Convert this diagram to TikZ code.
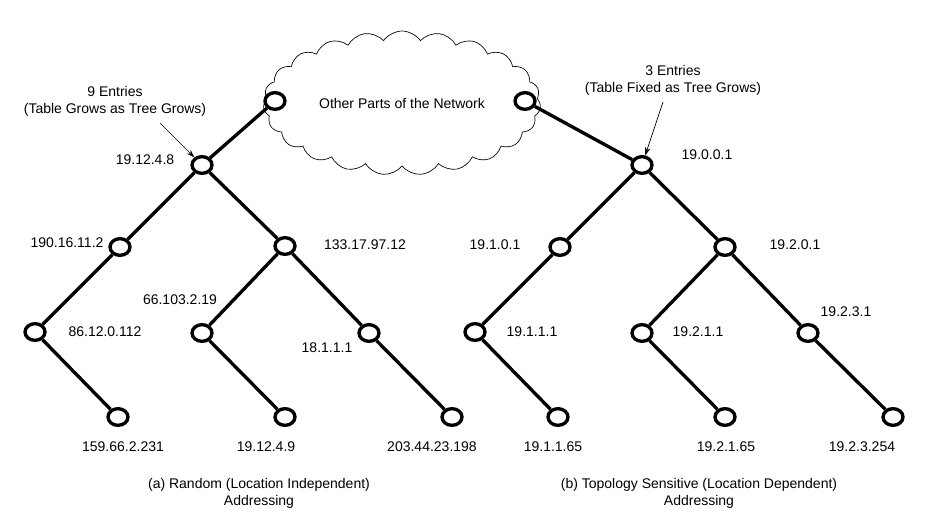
\documentclass[tikz,border=0pt]{standalone}
\usepackage{fontspec}
\setmainfont{Liberation Sans}
\usepackage{tikz}
\usetikzlibrary{arrows.meta,shapes.geometric,shapes.symbols}
\tikzset{
  netlabel/.style={font=\fontsize{10.5}{12.75}\selectfont, text=black, inner sep=1pt},
  netnode/.style={draw, ellipse, line width=2.5pt, fill=white, minimum width=15pt, minimum height=12.5pt, inner sep=0pt},
  netlink/.style={line width=2.5pt},
  netnote/.style={-{Stealth[length=6pt,width=4pt]}, line width=0.5pt},
  netcloud/.style={cloud, draw, line width=0.5pt, cloud puffs=23, cloud puff arc=110, aspect=2.0, minimum width=208pt, minimum height=108pt, align=center}
}

\begin{document}
\begin{tikzpicture}[x=0.75pt, y=-0.75pt, every node/.style={netlabel}]
\useasboundingbox (0,0) rectangle (944,525);
\node[netcloud] (cloud) at (402,103) {Other Parts of the Network};
% (a) random addressing
\node[netnode] (la) at (275,101) {};
\node[netnode] (a) at (202,165) {};
\node[netnode] (a1) at (120,247) {};
\node[netnode] (a2) at (285,246) {};
\node[netnode] (a11) at (35,332) {};
\node[netnode] (a21) at (202,333) {};
\node[netnode] (a22) at (369,333) {};
\node[netnode] (a111) at (118,417) {};
\node[netnode] (a211) at (285,417) {};
\node[netnode] (a221) at (452,417) {};
\draw[netlink] (la) -- (a) (a) -- (a1) (a) -- (a2) (a1) -- (a11) (a11) -- (a111);
\draw[netlink] (a2) -- (a21) (a2) -- (a22) (a21) -- (a211) (a22) -- (a221);
\node at (145,160) {19.12.4.8};
\node at (67,243) {190.16.11.2};
\node at (365,245) {133.17.97.12};
\node at (105,332) {86.12.0.112};
\node at (180,300) {66.103.2.19};
\node at (327,348) {18.1.1.1};
\node at (123,447) {159.66.2.231};
\node at (266,447) {19.12.4.9};
\node at (432,447) {203.44.23.198};
\node[align=center] (notea) at (115,101) {9 Entries\\(Table Grows as Tree Grows)};
\coordinate (notea-end) at (160,123);
\draw[netnote] (notea-end) -- (a);
\node[align=center] (capa) at (259,493) {(a) Random (Location Independent)\\Addressing};
% (b) topology sensitive addressing
\node[netnode] (rb) at (525,101) {};
\node[netnode] (b) at (642,165) {};
\node[netnode] (b1) at (560,247) {};
\node[netnode] (b2) at (725,247) {};
\node[netnode] (b11) at (475,332) {};
\node[netnode] (b21) at (642,333) {};
\node[netnode] (b22) at (808,333) {};
\node[netnode] (b111) at (558,417) {};
\node[netnode] (b211) at (725,417) {};
\node[netnode] (b221) at (893,417) {};
\draw[netlink] (rb) -- (b) (b) -- (b1) (b) -- (b2) (b1) -- (b11) (b11) -- (b111);
\draw[netlink] (b2) -- (b21) (b2) -- (b22) (b21) -- (b211) (b22) -- (b221);
\node at (707,155) {19.0.0.1};
\node at (495,245) {19.1.0.1};
\node at (795,245) {19.2.0.1};
\node at (532,332) {19.1.1.1};
\node at (698,332) {19.2.1.1};
\node at (846,312) {19.2.3.1};
\node at (553,447) {19.1.1.65};
\node at (726,447) {19.2.1.65};
\node at (862,447) {19.2.3.254};
\node[align=center] (noteb) at (673,80) {3 Entries\\(Table Fixed as Tree Grows)};
\coordinate (noteb-end) at (663,102);
\draw[netnote] (noteb-end) -- (b);
\node[align=center] (capb) at (699,493) {(b) Topology Sensitive (Location Dependent)\\Addressing};
\end{tikzpicture}
\end{document}
